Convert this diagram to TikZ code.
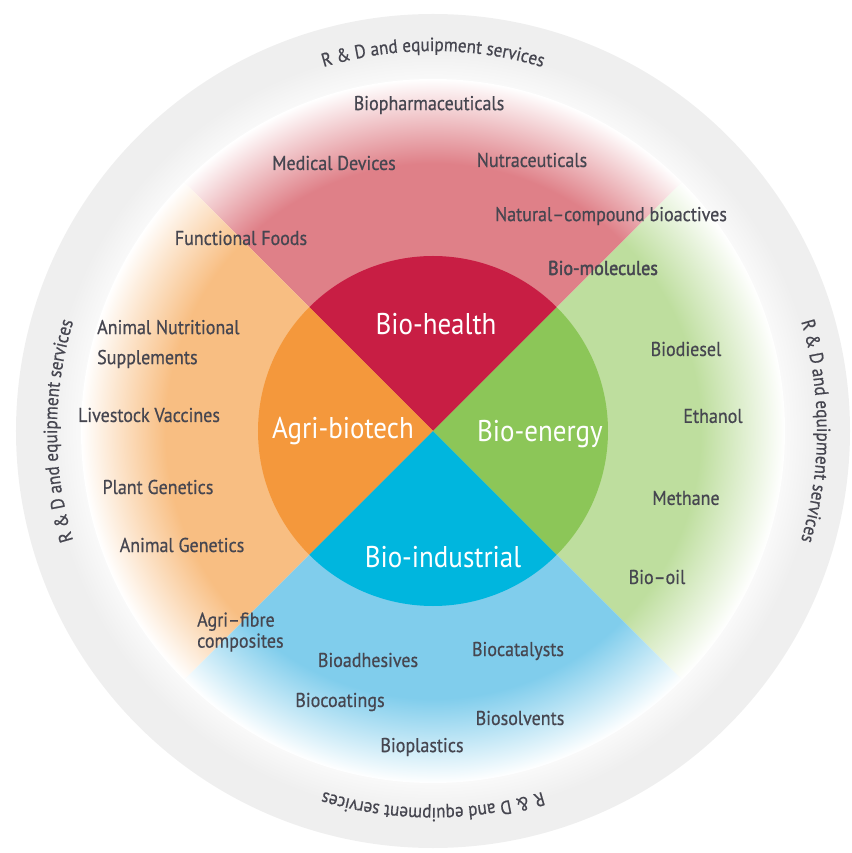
\documentclass[tikz,border=0pt]{standalone}
\usepackage{fontspec}
\usetikzlibrary{decorations.text}
\newfontfamily\itemfont[FakeStretch=0.9,FakeBold=0.6]{PT Sans}
\newfontfamily\molfont[FakeStretch=0.9,FakeBold=2]{PT Sans}
\newfontfamily\corefont[FakeStretch=0.9]{PT Sans}
\definecolor{txt}{RGB}{70,70,80}
\definecolor{ringgray}{RGB}{239,239,239}
\definecolor{healthD}{RGB}{200,30,68}
\definecolor{healthL}{RGB}{223,128,136}
\definecolor{agriD}{RGB}{244,152,60}
\definecolor{agriL}{RGB}{248,190,130}
\definecolor{energyD}{RGB}{140,198,88}
\definecolor{energyL}{RGB}{190,222,158}
\definecolor{indD}{RGB}{0,182,222}
\definecolor{indL}{RGB}{128,205,236}
\pgfdeclareradialshading{ringshade}{\pgfpoint{0bp}{0bp}}{color(0bp)=(white); color(20bp)=(white); color(23bp)=(ringgray); color(50bp)=(ringgray)}
\pgfdeclareradialshading{healthfade}{\pgfpoint{0bp}{0bp}}{color(0bp)=(healthL); color(19bp)=(healthL); color(25bp)=(white); color(50bp)=(white)}
\pgfdeclareradialshading{agrifade}{\pgfpoint{0bp}{0bp}}{color(0bp)=(agriL); color(19bp)=(agriL); color(25bp)=(white); color(50bp)=(white)}
\pgfdeclareradialshading{energyfade}{\pgfpoint{0bp}{0bp}}{color(0bp)=(energyL); color(19bp)=(energyL); color(25bp)=(white); color(50bp)=(white)}
\pgfdeclareradialshading{indfade}{\pgfpoint{0bp}{0bp}}{color(0bp)=(indL); color(19bp)=(indL); color(25bp)=(white); color(50bp)=(white)}
\tikzset{
  item/.style={font=\itemfont\fontsize{20}{21}\selectfont, text=txt, inner sep=0pt},
  core/.style={font=\corefont\fontsize{30}{31}\selectfont, text=white, inner sep=0pt},
  rdtext/.style={decorate, decoration={text along path, text format delimiters={|}{|},
     text={|\itemfont\fontsize{19}{20}\selectfont|R {\&} D and equipment services},
     text align=center, text color=txt}}
}
\begin{document}
\begin{tikzpicture}[x=1pt,y=1pt]
\useasboundingbox (-433,-422) rectangle (418,431);
\coordinate (C) at (0,0);
% outer ring
\shade[shading=ringshade] (C) circle (417);
% faded wedges
\begin{scope}
\clip (C) -- (430,430) -- (-430,430) -- cycle;
\shade[shading=healthfade] (C) circle (352);
\end{scope}
\begin{scope}
\clip (C) -- (-430,430) -- (-430,-430) -- cycle;
\shade[shading=agrifade] (C) circle (352);
\end{scope}
\begin{scope}
\clip (C) -- (430,430) -- (430,-430) -- cycle;
\shade[shading=energyfade] (C) circle (352);
\end{scope}
\begin{scope}
\clip (C) -- (430,-430) -- (-430,-430) -- cycle;
\shade[shading=indfade] (C) circle (352);
\end{scope}
% inner circle
\fill[healthD] (C) -- (45:175) arc[start angle=45, end angle=135, radius=175] -- cycle;
\fill[agriD] (C) -- (135:175) arc[start angle=135, end angle=225, radius=175] -- cycle;
\fill[indD] (C) -- (225:175) arc[start angle=225, end angle=315, radius=175] -- cycle;
\fill[energyD] (C) -- (-45:175) arc[start angle=-45, end angle=45, radius=175] -- cycle;
% core labels
\node[core] (health) at (3,107) {Bio-health};
\node[core] (agri) at (-90,0) {Agri-biotech};
\node[core] (energy) at (107,-3) {Bio-energy};
\node[core] (ind) at (10,-126) {Bio-industrial};
% bio-health items
\node[item] (biopharm) at (-4,326) {Biopharmaceuticals};
\node[item] (meddev) at (-99,268) {Medical Devices};
\node[item] (nutra) at (99,271) {Nutraceuticals};
\node[item] (natcomp) at (178,215) {Natural–compound bioactives};
\node[item, font=\molfont\fontsize{20}{21}\selectfont] (biomol) at (170,163) {Bio-molecules};
% agri-biotech items
\node[item, anchor=west, align=left, font=\itemfont\fontsize{20}{30}\selectfont] (animnut) at (-336,87) {Animal Nutritional\\Supplements};
\node[item] (funcfood) at (-192,193) {Functional Foods};
\node[item] (livestock) at (-284,16) {Livestock Vaccines};
\node[item] (plantgen) at (-275,-56) {Plant Genetics};
\node[item] (animgen) at (-251,-114) {Animal Genetics};
\node[item, anchor=west, align=left, font=\itemfont\fontsize{20}{21}\selectfont] (agrifibre) at (-236,-201) {Agri–fibre\\composites};
% bio-industrial items
\node[item] (bioadh) at (-65,-229) {Bioadhesives};
\node[item] (biocat) at (85,-220) {Biocatalysts};
\node[item] (biocoat) at (-93,-271) {Biocoatings};
\node[item] (biosolv) at (87,-287) {Biosolvents};
\node[item] (bioplast) at (-11,-316) {Bioplastics};
% bio-energy items
\node[item] (biodiesel) at (253,82) {Biodiesel};
\node[item] (ethanol) at (280,15) {Ethanol};
\node[item] (methane) at (253,-67) {Methane};
\node[item] (biooil) at (224,-146) {Bio–oil};
% ring texts
\path[rdtext] (128:380) arc[start angle=128, end angle=52, radius=380];
\path[rdtext] (218:376) arc[start angle=218, end angle=142, radius=376];
\path[rdtext] (38:384) arc[start angle=38, end angle=-38, radius=384];
\path[rdtext] (308:377) arc[start angle=308, end angle=232, radius=377];
\end{tikzpicture}
\end{document}
